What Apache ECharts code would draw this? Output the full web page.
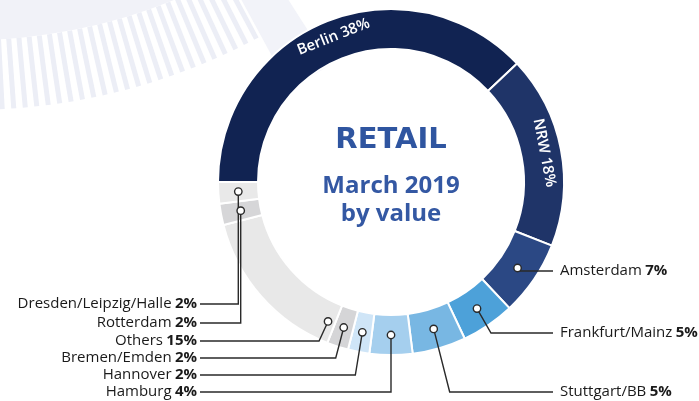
<!DOCTYPE html>
<html>
<head>
    <title>Retail March 2019</title>
    <script src="https://cdn.jsdelivr.net/npm/echarts@6/dist/echarts.min.js"></script>
    <style>
        body { margin: 0; background: #fff; }
        #grafico { width: 699px; height: 401px; }
    </style>
</head>
<body>
    <div id="grafico"></div>

    <script>
        // Datos
        const nombres = ['Berlin', 'NRW', 'Amsterdam', 'Frankfurt/Mainz', 'Stuttgart/BB', 'Hamburg',
            'Hannover', 'Bremen/Emden', 'Others', 'Rotterdam', 'Dresden/Leipzig/Halle'];
        const porcentajes = [38, 18, 7, 5, 5, 4, 2, 2, 15, 2, 2];
        const colores = ['#112352', '#1f3468', '#2b4884', '#4da1d9', '#78b7e3', '#a5cfee',
            '#cfe5f7', '#d5d5d7', '#e8e8e8', '#d6d6d8', '#e9e9e9'];
        const etiquetasDentro = ['Berlin', 'NRW'];

        // Geometria del anillo
        const centro = [391, 182];
        const radios = [133, 173];

        // Donde van las etiquetas externas (fila y quiebre de la linea)
        const filas = {
            'Amsterdam': { lado: 'der', y: 271, quiebre: 0 },
            'Frankfurt/Mainz': { lado: 'der', y: 333, quiebre: 14 },
            'Stuttgart/BB': { lado: 'der', y: 392, quiebre: 16 },
            'Hamburg': { lado: 'izq', y: 392, quiebre: 0 },
            'Hannover': { lado: 'izq', y: 375, quiebre: -7 },
            'Bremen/Emden': { lado: 'izq', y: 358, quiebre: -8 },
            'Others': { lado: 'izq', y: 341, quiebre: -9 },
            'Rotterdam': { lado: 'izq', y: 323, quiebre: 0 },
            'Dresden/Leipzig/Halle': { lado: 'izq', y: 304, quiebre: 0 }
        };
        // punto del circulito dentro del segmento (0.5 = mitad)
        const posAncla = { 'Others': 0.05 };

        const total = porcentajes.reduce((a, b) => a + b, 0);

        function ancla(i) {
            let acum = 0;
            for (let k = 0; k < i; k++) acum += porcentajes[k];
            const t = posAncla[nombres[i]] !== undefined ? posAncla[nombres[i]] : 0.5;
            const frac = (acum + porcentajes[i] * t) / total;
            const ang = (180 - frac * 360) * Math.PI / 180;
            const r = (radios[0] + radios[1]) / 2;
            return [centro[0] + r * Math.cos(ang), centro[1] - r * Math.sin(ang)];
        }

        function layoutEtiqueta(params) {
            const fila = filas[nombres[params.dataIndex]];
            if (!fila) return {};
            const a = ancla(params.dataIndex);
            const der = fila.lado === 'der';
            const xTexto = der ? 560 : 197;
            const xFin = der ? xTexto - 7 : xTexto + 3;
            return {
                x: xTexto,
                y: fila.y,
                align: der ? 'left' : 'right',
                verticalAlign: 'middle',
                labelLinePoints: [a, [a[0] + fila.quiebre, fila.y], [xFin, fila.y]]
            };
        }

        function layoutCirculo(params) {
            if (!filas[nombres[params.dataIndex]]) return {};
            const a = ancla(params.dataIndex);
            return { x: a[0], y: a[1], align: 'center', verticalAlign: 'middle' };
        }

        // anillo de colores con las etiquetas internas
        const datosAnillo = nombres.map((n, i) => {
            const dentro = etiquetasDentro.includes(n);
            return {
                name: n,
                value: porcentajes[i],
                itemStyle: { color: colores[i] },
                label: { show: dentro }
            };
        });

        // capa transparente encima: etiquetas externas y sus lineas
        const datosEtiquetas = nombres.map((n, i) => ({
            name: n,
            value: porcentajes[i],
            label: { show: !!filas[n] },
            labelLine: { show: !!filas[n] }
        }));

        // capa de circulitos
        const datosCirculos = nombres.map((n, i) => ({
            name: n,
            value: porcentajes[i],
            label: { show: !!filas[n] }
        }));

        const comun = {
            type: 'pie',
            center: centro,
            radius: radios,
            startAngle: 180,
            clockwise: true,
            avoidLabelOverlap: false,
            emphasis: { disabled: true }
        };

        const grafico = echarts.init(document.getElementById('grafico'), null, { renderer: 'canvas' });

        grafico.setOption({
            animation: false,
            backgroundColor: '#fff',
            title: [{
                text: 'RETAIL',
                left: 386,
                top: 105,
                textAlign: 'center',
                textStyle: { color: '#2f55a0', fontSize: 29, fontWeight: 'bold', fontFamily: 'DejaVu Sans' }
            }, {
                text: 'March 2019\nby value',
                left: 386,
                top: 167,
                textAlign: 'center',
                textStyle: { color: '#3458a3', fontSize: 24, fontWeight: 'bold', lineHeight: 28, fontFamily: 'Open Sans' }
            }],
            graphic: [{
                type: 'circle',
                z: -10,
                silent: true,
                shape: { cx: -30, cy: -500, r: 540 },
                style: { fill: '#f1f2f8' }
            }, {
                type: 'sector',
                z: -10,
                silent: true,
                shape: { cx: -30, cy: -500, r0: 530, r: 670, startAngle: 57.5 * Math.PI / 180, endAngle: 61.5 * Math.PI / 180 },
                style: { fill: '#f2f3f9' }
            }],
            series: [{
                // rayas del fondo
                type: 'gauge',
                z: 1,
                silent: true,
                center: [-30, -500],
                radius: 610,
                startAngle: -62,
                endAngle: -100,
                min: 0,
                max: 35,
                splitNumber: 35,
                axisLine: { show: false, lineStyle: { width: 0 } },
                splitLine: { show: true, length: 70, distance: 0, lineStyle: { color: '#eceef6', width: 5 } },
                axisTick: { show: false },
                axisLabel: { show: false },
                pointer: { show: false },
                anchor: { show: false },
                title: { show: false },
                detail: { show: false },
                data: []
            }, Object.assign({}, comun, {
                z: 3,
                itemStyle: { borderColor: '#fff', borderWidth: 2 },
                label: {
                    position: 'inside',
                    rotate: 'tangential',
                    formatter: '{b} {c}%',
                    color: '#fff',
                    fontSize: 15,
                    fontWeight: 600,
                    fontFamily: 'Open Sans'
                },
                labelLine: { show: false },
                data: datosAnillo
            }), Object.assign({}, comun, {
                z: 4,
                silent: true,
                itemStyle: { color: 'rgba(0,0,0,0)', borderWidth: 0 },
                label: {
                    position: 'outside',
                    formatter: '{n|{b}} {p|{c}%}',
                    rich: {
                        n: { fontSize: 15, color: '#1a1a1a', fontFamily: 'Open Sans' },
                        p: { fontSize: 15, color: '#1a1a1a', fontWeight: 'bold', fontFamily: 'Open Sans' }
                    }
                },
                labelLine: { showAbove: true, lineStyle: { color: '#2a2a2a', width: 1.4 } },
                labelLayout: layoutEtiqueta,
                data: datosEtiquetas
            }), Object.assign({}, comun, {
                z: 5,
                silent: true,
                itemStyle: { color: 'rgba(0,0,0,0)', borderWidth: 0 },
                label: {
                    position: 'inside',
                    formatter: ' ',
                    fontSize: 1,
                    width: 6,
                    height: 6,
                    padding: 0,
                    backgroundColor: '#fff',
                    borderColor: '#2a2a2a',
                    borderWidth: 1.4,
                    borderRadius: 4
                },
                labelLine: { show: false },
                labelLayout: layoutCirculo,
                data: datosCirculos
            })]
        });
    </script>
</body>
</html>
